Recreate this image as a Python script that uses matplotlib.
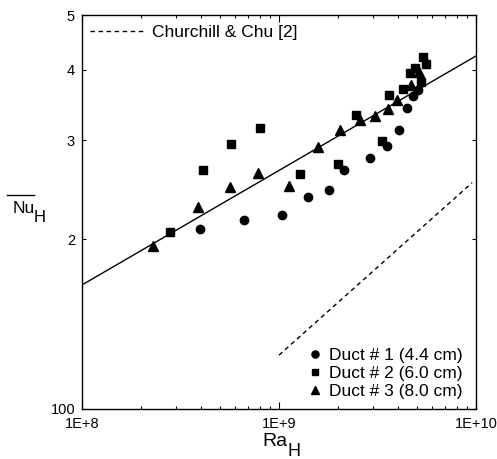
import numpy as np
import matplotlib
matplotlib.use("Agg")
import matplotlib.pyplot as plt
from matplotlib.ticker import FixedLocator, NullLocator
from matplotlib.lines import Line2D

plt.rcParams["font.family"] = ["Liberation Sans", "DejaVu Sans"]

# data
duct1_ra = [3.95e8, 6.63e8, 1.03e9, 1.41e9, 1.80e9, 2.13e9, 2.88e9, 3.52e9, 4.08e9, 4.45e9, 4.80e9, 5.06e9]
duct1_nu = [2.09, 2.16, 2.21, 2.38, 2.45, 2.65, 2.79, 2.93, 3.12, 3.42, 3.59, 3.68]

duct2_ra = [2.81e8, 4.11e8, 5.72e8, 8.05e8, 1.28e9, 1.99e9, 2.47e9, 3.33e9, 3.60e9, 4.24e9,
            4.62e9, 4.90e9, 5.27e9, 5.40e9, 5.57e9]
duct2_nu = [2.06, 2.65, 2.95, 3.15, 2.61, 2.72, 3.32, 2.99, 3.60, 3.70,
            3.95, 4.02, 3.80, 4.21, 4.09]

duct3_ra = [2.29e8, 3.89e8, 5.62e8, 7.81e8, 1.12e9, 1.57e9, 2.03e9, 2.59e9, 3.08e9, 3.57e9,
            3.99e9, 4.69e9, 5.11e9]
duct3_nu = [1.95, 2.28, 2.48, 2.62, 2.49, 2.92, 3.13, 3.25, 3.31, 3.41,
            3.53, 3.76, 3.96]

# correlation lines
fit_ra = [1e8, 1e10]
fit_nu = [1.66, 4.23]
cc_ra = [1.0e9, 9.55e9]
cc_nu = [1.246, 2.52]

fig = plt.figure(figsize=(4.97, 4.59), dpi=100)
ax = fig.add_axes([82 / 497, 50 / 459, 394 / 497, 394 / 459])

ax.plot(fit_ra, fit_nu, color="black", lw=1.0)
cc_line, = ax.plot(cc_ra, cc_nu, color="black", lw=1.0, linestyle=(0, (3.2, 2.6)),
                   label="Churchill & Chu [2]")

p1, = ax.plot(duct1_ra, duct1_nu, "o", color="black", ms=6, label="Duct # 1 (4.4 cm)")
p2, = ax.plot(duct2_ra, duct2_nu, "s", color="black", ms=5.5, label="Duct # 2 (6.0 cm)")
p3, = ax.plot(duct3_ra, duct3_nu, "^", color="black", ms=7, label="Duct # 3 (8.0 cm)")

ax.set_xscale("log")
ax.set_yscale("log")
ax.set_xlim(1e8, 1e10)
ax.set_ylim(1, 5)

ax.xaxis.set_major_locator(FixedLocator([1e8, 1e9, 1e10]))
ax.set_xticklabels(["1E+8", "1E+9", "1E+10"])
ax.yaxis.set_major_locator(FixedLocator([1, 2, 3, 4, 5]))
ax.yaxis.set_minor_locator(NullLocator())
ax.set_yticklabels(["100", "2", "3", "4", "5"])

ax.tick_params(axis="both", which="both", direction="in", top=True, right=True,
               labelsize=10.5, width=0.8)
ax.tick_params(axis="x", which="major", length=5, pad=6)
ax.tick_params(axis="x", which="minor", length=2.5)
ax.tick_params(axis="y", which="major", length=3, pad=5)
for s in ax.spines.values():
    s.set_linewidth(1.0)

# axis labels with big subscripts
ra = ax.annotate("Ra", xy=(0.5, 0), xycoords="axes fraction", xytext=(6, -17),
                 textcoords="offset points", ha="right", va="top", fontsize=14)
ax.annotate("H", xy=(1, 0), xycoords=ra, xytext=(0, 5), textcoords="offset points",
            ha="left", va="top", fontsize=13)

fig.text(13 / 497, 1 - 213 / 459, "Nu", ha="left", va="baseline", fontsize=12.5)
fig.text(34 / 497, 1 - 222 / 459, "H", ha="left", va="baseline", fontsize=12)
# bar over Nu
fig.add_artist(Line2D([7 / 497, 34 / 497], [1 - 195 / 459, 1 - 195 / 459],
                      transform=fig.transFigure, color="black", lw=1.0))

leg1 = ax.legend(handles=[cc_line], loc="upper left", frameon=False, fontsize=12.5,
                 handlelength=3.2, handletextpad=0.35, borderpad=0, borderaxespad=0,
                 bbox_to_anchor=(8 / 394, 1 - 10 / 394))
ax.add_artist(leg1)
ax.legend(handles=[p1, p2, p3], loc="lower right", frameon=False, fontsize=12.5,
          handlelength=0.8, handletextpad=0.45, labelspacing=0.15, borderpad=0,
          borderaxespad=0, markerscale=0.85, bbox_to_anchor=(1 - 13 / 394, 10 / 394))

plt.savefig("out.png", dpi=100)
